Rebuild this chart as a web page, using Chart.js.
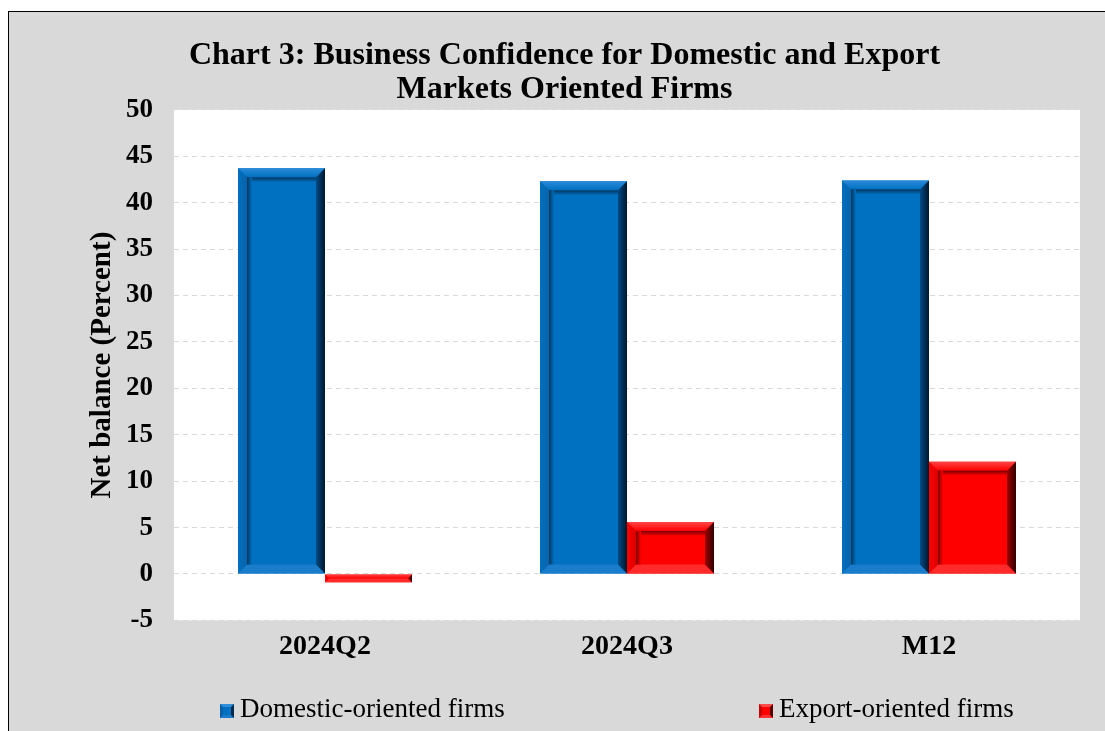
<!DOCTYPE html>
<html>
<head>
<meta charset="utf-8">
<script src="https://cdn.jsdelivr.net/npm/chart.js@4.4.1/dist/chart.umd.min.js"></script>
<style>
  html, body { margin: 0; padding: 0; background: #ffffff; width: 1105px; height: 731px; overflow: hidden; }
  #wrap { position: absolute; left: 8px; top: 11px; width: 1097px; height: 720px; background: #d9d9d9;
          border-left: 1px solid #000; border-top: 1px solid #000; }
  #c { position: absolute; left: 0; top: 0; }
  .leg { position: absolute; top: 679px; height: 34px; font-family: "Liberation Serif", "Times New Roman", serif;
         font-size: 27px; color: #000; white-space: nowrap; line-height: 34px; }
  .mk { display: inline-block; width: 14px; height: 14px; vertical-align: -1px; margin-right: 6px; box-sizing: border-box; }
  .mk.blue { background: #0070c0; border-top: 3px solid #2f8fda; border-left: 3px solid #0a5ea3; border-right: 3px solid #022a4f; border-bottom: 3px solid #1b7ccc; }
  .mk.red { background: #ff0000; border-top: 3px solid #ff4a4a; border-left: 3px solid #c80000; border-right: 3px solid #5a0000; border-bottom: 3px solid #ff3030; }
</style>
</head>
<body>
<div id="wrap">
  <canvas id="c" width="1096" height="719"></canvas>
  <div class="leg" style="left:211px;"><span class="mk blue"></span>Domestic-oriented firms</div>
  <div class="leg" style="left:750px;"><span class="mk red"></span>Export-oriented firms</div>
</div>
<script>
const categories = ["2024Q2", "2024Q3", "M12"];
const domesticValues = [43.7, 42.3, 42.4];
const exportValues = [-0.9, 5.6, 12.1];
const seriesNames = ["Domestic-oriented firms", "Export-oriented firms"];
const titleLines = ["Chart 3: Business Confidence for Domestic and Export", "Markets Oriented Firms"];
const yAxisTitle = "Net balance (Percent)";

const SERIF = '"Liberation Serif", "Times New Roman", serif';

const palettes = [
  { base: '#0070c0', top: '#2a8ad8', left: '#0b62a8', right1: '#024a85', right2: '#01182c', bottom: '#1a7dcc', shadow: '#03365f' },
  { base: '#ff0000', top: '#ff4545', left: '#d80000', right1: '#a00000', right2: '#300000', bottom: '#ff2a2a', shadow: '#7a0000' }
];

const areaBg = {
  id: 'areaBg',
  beforeDraw(chart) {
    const { ctx, chartArea: a } = chart;
    ctx.save();
    ctx.fillStyle = '#ffffff';
    ctx.fillRect(a.left, a.top, a.right - a.left, a.bottom - a.top);
    ctx.restore();
  }
};

const bevel = {
  id: 'bevel',
  afterDatasetsDraw(chart) {
    const ctx = chart.ctx;
    chart.data.datasets.forEach((ds, di) => {
      const meta = chart.getDatasetMeta(di);
      const p = palettes[di];
      meta.data.forEach(el => {
        const { x, y, base, width } = el.getProps(['x', 'y', 'base', 'width'], true);
        const l = x - width / 2, r = x + width / 2;
        const t = Math.min(y, base), btm = Math.max(y, base);
        const h = btm - t;
        const b = Math.min(9, h / 2, width / 2);
        const poly = (pts, fill) => {
          ctx.beginPath();
          ctx.moveTo(pts[0][0], pts[0][1]);
          for (let i = 1; i < pts.length; i++) ctx.lineTo(pts[i][0], pts[i][1]);
          ctx.closePath();
          ctx.fillStyle = fill;
          ctx.fill();
        };
        ctx.save();
        let g = ctx.createLinearGradient(0, t, 0, t + b);
        g.addColorStop(0, p.top); g.addColorStop(1, p.base);
        poly([[l, t], [r, t], [r - b, t + b], [l + b, t + b]], g);
        poly([[l, btm], [r, btm], [r - b, btm - b], [l + b, btm - b]], p.bottom);
        g = ctx.createLinearGradient(l, 0, l + b, 0);
        g.addColorStop(0, p.base); g.addColorStop(1, p.left);
        poly([[l, t], [l + b, t + b], [l + b, btm - b], [l, btm]], g);
        g = ctx.createLinearGradient(r - b, 0, r, 0);
        g.addColorStop(0, p.right1); g.addColorStop(1, p.right2);
        poly([[r, t], [r, btm], [r - b, btm - b], [r - b, t + b]], g);
        if (h > 30) {
          const s = 5;
          g = ctx.createLinearGradient(0, t + b, 0, t + b + s);
          g.addColorStop(0, p.shadow); g.addColorStop(1, p.base);
          ctx.fillStyle = g;
          ctx.fillRect(l + b, t + b, (r - b) - (l + b), s);
          g = ctx.createLinearGradient(l + b, 0, l + b + s, 0);
          g.addColorStop(0, p.shadow); g.addColorStop(1, p.base);
          ctx.fillStyle = g;
          ctx.fillRect(l + b, t + b, s, (btm - b) - (t + b));
        }
        ctx.restore();
      });
    });
  }
};

new Chart(document.getElementById('c'), {
  type: 'bar',
  data: {
    labels: categories,
    datasets: [
      { label: seriesNames[0], data: domesticValues, backgroundColor: palettes[0].base, borderWidth: 0 },
      { label: seriesNames[1], data: exportValues, backgroundColor: palettes[1].base, borderWidth: 0 }
    ]
  },
  options: {
    responsive: false,
    animation: false,
    datasets: { bar: { categoryPercentage: 0.576, barPercentage: 1.0 } },
    layout: { padding: { left: 40, right: 25, top: 0, bottom: 57 } },
    plugins: {
      legend: { display: false },
      tooltip: { enabled: false },
      title: {
        display: true,
        text: titleLines,
        color: '#000',
        font: { family: SERIF, size: 32, weight: 'bold', lineHeight: 1.06 },
        padding: { top: 27, bottom: 3 }
      }
    },
    scales: {
      x: {
        grid: { display: false, drawTicks: false },
        border: { display: false },
        ticks: { color: '#000', padding: 10, font: { family: SERIF, size: 28, weight: 'bold' } }
      },
      y: {
        min: -5, max: 50,
        afterFit(scale) { scale.width = 125; },
        border: { display: false, dash: [5, 4] },
        grid: { color: '#d9d9d9', lineWidth: 1, drawTicks: false },
        ticks: { stepSize: 5, color: '#000', padding: 21, font: { family: SERIF, size: 27, weight: 'bold' } },
        title: {
          display: true, text: yAxisTitle, color: '#000',
          font: { family: SERIF, size: 29, weight: 'bold' },
          padding: { top: 36, bottom: 0 }
        }
      }
    }
  },
  plugins: [areaBg, bevel]
});
</script>
</body>
</html>
